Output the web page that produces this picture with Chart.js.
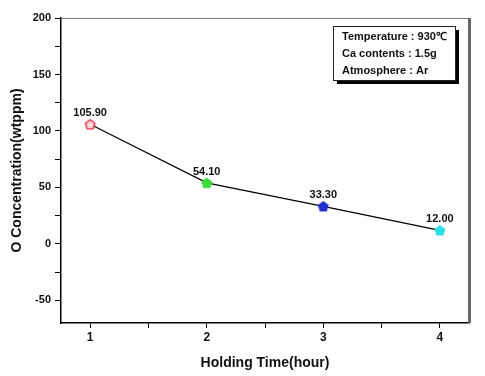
<!DOCTYPE html>
<html>
<head>
<meta charset="utf-8">
<script src="https://cdn.jsdelivr.net/npm/chart.js@4"></script>
<style>
html, body { margin: 0; padding: 0; background: #fff; }
#wrap { width: 485px; height: 376px; }
</style>
</head>
<body>
<div id="wrap"><canvas id="oxygenGraph" width="485" height="376"></canvas></div>
<script>
var holdingHours = [1, 2, 3, 4];
var oxygenPpm = [105.90, 54.10, 33.30, 12.00];
var pointLabels = ["105.90", "54.10", "33.30", "12.00"];
var pointColors = ["#e8243a", "#3ddc3d", "#2030c8", "#28e0e8"];
var xTickValues = [1, 1.5, 2, 2.5, 3, 3.5, 4];
var yTickValues = [-50, -25, 0, 25, 50, 75, 100, 125, 150, 175, 200];
var conditionLines = ["Temperature : 930\u2103", "Ca contents : 1.5g", "Atmosphere : Ar"];

var FONT = "'Liberation Sans', Arial, sans-serif";

// pentagon marker, like the origin plot symbols
function make_pentagon(color, hollow) {
    var c = document.createElement("canvas");
    c.width = 12;
    c.height = 12;
    var ctx = c.getContext("2d");
    ctx.beginPath();
    for (var i = 0; i < 5; i++) {
        var a = -Math.PI / 2 + i * 2 * Math.PI / 5;
        var px = 6 + 5 * Math.cos(a);
        var py = 6.5 + 5 * Math.sin(a);
        if (i == 0) ctx.moveTo(px, py); else ctx.lineTo(px, py);
    }
    ctx.closePath();
    ctx.fillStyle = hollow ? "#ffd8dc" : color;
    ctx.fill();
    ctx.lineWidth = 1.3;
    ctx.strokeStyle = color;
    ctx.stroke();
    return c;
}
var markers = pointColors.map(function (c, i) { return make_pentagon(c, i == 0); });

var framePlugin = {
    id: "frame",
    afterDraw: function (chart) {
        var ctx = chart.ctx;
        var a = chart.chartArea;
        ctx.save();
        // top and right of the frame
        ctx.strokeStyle = "#777";
        ctx.lineWidth = 1;
        ctx.beginPath();
        ctx.moveTo(a.left, a.top + 0.5);
        ctx.lineTo(a.right, a.top + 0.5);
        ctx.stroke();
        ctx.strokeStyle = "#666";
        ctx.lineWidth = 3;
        ctx.beginPath();
        ctx.moveTo(a.right + 0.5, a.top);
        ctx.lineTo(a.right + 0.5, a.bottom);
        ctx.stroke();

        // value labels above the points
        var meta = chart.getDatasetMeta(0);
        ctx.fillStyle = "#111";
        ctx.font = "bold 11px " + FONT;
        ctx.textAlign = "center";
        ctx.textBaseline = "middle";
        meta.data.forEach(function (pt, i) {
            ctx.fillText(pointLabels[i], pt.x, pt.y - 11);
        });

        // conditions box with shadow
        var bx = 333, by = 26, bw = 122, bh = 54;
        ctx.fillStyle = "#000";
        ctx.fillRect(bx + 4, by + 4, bw, bh);
        ctx.fillStyle = "#fff";
        ctx.fillRect(bx, by, bw, bh);
        ctx.strokeStyle = "#222";
        ctx.lineWidth = 1;
        ctx.strokeRect(bx + 0.5, by + 0.5, bw, bh);
        ctx.fillStyle = "#111";
        ctx.font = "bold 11px " + FONT;
        ctx.textAlign = "left";
        conditionLines.forEach(function (t, i) {
            ctx.fillText(t, bx + 9, by + 11 + i * 17);
        });
        ctx.restore();
    }
};

new Chart("oxygenGraph", {
    type: "line",
    data: {
        datasets: [{
            data: holdingHours.map(function (h, i) { return { x: h, y: oxygenPpm[i] }; }),
            borderColor: "#000",
            borderWidth: 1.2,
            pointStyle: markers,
            pointRadius: 6,
            tension: 0,
            fill: false,
        }],
    },
    options: {
        responsive: false,
        animation: false,
        layout: { padding: { left: 0, top: 18, right: 16, bottom: 0 } },
        plugins: { legend: { display: false }, tooltip: { enabled: false } },
        scales: {
            x: {
                type: "linear",
                min: 0.75,
                max: 4.25,
                afterBuildTicks: function (scale) {
                    scale.ticks = xTickValues.map(function (v) { return { value: v }; });
                },
                afterFit: function (scale) { scale.height = 53; },
                grid: { drawOnChartArea: false, tickLength: 5, color: "#000", tickWidth: 1 },
                border: { color: "#000", width: 1.5 },
                ticks: {
                    color: "#111",
                    padding: 2,
                    maxRotation: 0,
                    autoSkip: false,
                    font: { family: FONT, size: 12, weight: "bold" },
                    callback: function (v) { return Number.isInteger(v) ? v : ""; },
                },
                title: {
                    display: true,
                    text: "Holding Time(hour)",
                    color: "#111",
                    font: { family: FONT, size: 14, weight: "bold" },
                    padding: { top: 0, bottom: 4 },
                },
            },
            y: {
                min: -70,
                max: 200,
                afterBuildTicks: function (scale) {
                    scale.ticks = yTickValues.map(function (v) { return { value: v }; });
                },
                afterFit: function (scale) { scale.width = 61; },
                grid: { drawOnChartArea: false, tickLength: 6, color: "#000", tickWidth: 1 },
                border: { color: "#000", width: 1.5 },
                ticks: {
                    color: "#111",
                    padding: 4,
                    autoSkip: false,
                    font: { family: FONT, size: 11, weight: "bold" },
                    callback: function (v) { return v % 50 == 0 ? v : ""; },
                },
                title: {
                    display: true,
                    text: "O Concentration(wtppm)",
                    color: "#111",
                    font: { family: FONT, size: 14, weight: "bold" },
                    padding: { top: 9, bottom: 4 },
                },
            },
        },
    },
    plugins: [framePlugin],
});
</script>
</body>
</html>
